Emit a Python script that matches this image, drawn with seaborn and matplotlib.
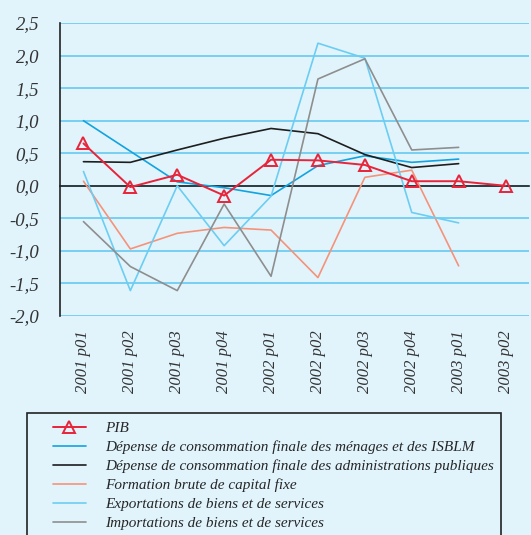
import matplotlib
matplotlib.use("Agg")
import matplotlib.pyplot as plt
from matplotlib.patches import Rectangle
import seaborn as sns
import pandas as pd
import numpy as np

# Periods (quarters)
periods = ["2001 p01", "2001 p02", "2001 p03", "2001 p04", "2002 p01",
           "2002 p02", "2002 p03", "2002 p04", "2003 p01", "2003 p02"]

# Series values (NaN = no value)
pib = [0.65, -0.02, 0.17, -0.15, 0.40, 0.39, 0.32, 0.07, 0.07, 0.00]
menages = [1.00, 0.53, 0.06, -0.03, -0.15, 0.31, 0.46, 0.36, 0.41, np.nan]
admin = [0.37, 0.36, 0.55, 0.73, 0.88, 0.80, 0.48, 0.28, 0.34, np.nan]
fbcf = [0.07, -0.97, -0.73, -0.64, -0.68, -1.41, 0.13, 0.24, -1.23, np.nan]
exports = [0.22, -1.61, 0.00, -0.92, -0.16, 2.19, 1.96, -0.41, -0.57, np.nan]
imports = [-0.55, -1.24, -1.61, -0.28, -1.39, 1.64, 1.95, 0.55, 0.59, np.nan]

labels = ["PIB",
          "Dépense de consommation finale des ménages et des ISBLM",
          "Dépense de consommation finale des administrations publiques",
          "Formation brute de capital fixe",
          "Exportations de biens et de services",
          "Importations de biens et de services"]
colors = ["#e8243a", "#12a3e0", "#1e1e1e", "#f5937a", "#6ccdf2", "#8e8e8e"]
series = [pib, menages, admin, fbcf, exports, imports]

bg = "#e1f4fc"
sns.set_theme(style="white")
plt.rcParams["font.family"] = ["Liberation Serif", "DejaVu Serif"]
plt.rcParams["font.style"] = "italic"

fig = plt.figure(figsize=(5.31, 5.35), dpi=100, facecolor=bg)
ax = fig.add_axes([60 / 531, 1 - 316 / 535, 469 / 531, 293 / 535])
ax.set_facecolor(bg)

xpos = np.arange(len(periods))
for vals, lab, col in zip(series, labels, colors):
    df = pd.DataFrame({"x": xpos, "y": vals}).dropna()
    if lab == "PIB":
        sns.lineplot(data=df, x="x", y="y", ax=ax, color=col, lw=1.4,
                     marker="^", markersize=9, markerfacecolor="none",
                     markeredgecolor=col, markeredgewidth=1.4, label=lab,
                     zorder=5)
    else:
        sns.lineplot(data=df, x="x", y="y", ax=ax, color=col, lw=1.2,
                     label=lab, zorder=4)

ax.set_xlim(-0.5, len(periods) - 0.5)
ax.set_ylim(-2.0, 2.5)
ax.set_xlabel("")
ax.set_ylabel("")

# y axis
yt = np.arange(-2.0, 2.51, 0.5)
ax.set_yticks(yt)
ax.set_yticklabels([f"{v:.1f}".replace(".", ",") for v in yt],
                   fontsize=13.5, color="#333333", fontstyle="italic")
ax.tick_params(axis="y", direction="out", length=6, width=1.1, color="#222222", pad=9)
ax.yaxis.grid(True, color="#78cff2", lw=1.4)
ax.set_axisbelow(True)

for s in ["top", "right"]:
    ax.spines[s].set_visible(False)
ax.spines["left"].set_color("#222222")
ax.spines["left"].set_linewidth(1.2)
ax.spines["bottom"].set_position(("data", 0))
ax.spines["bottom"].set_color("#222222")
ax.spines["bottom"].set_linewidth(1.2)
ax.spines["bottom"].set_zorder(3)

# zero axis with ticks between categories
ax.set_xticks(np.arange(-0.5, len(periods), 1.0))
ax.tick_params(axis="x", direction="inout", length=8, width=1.1,
               color="#222222", labelbottom=False)

# category labels below the plot
sec = ax.secondary_xaxis(0)
sec.set_xticks(xpos)
sec.set_xticklabels(periods, rotation=90, fontsize=12, color="#333333",
                    fontstyle="italic")
sec.tick_params(axis="x", length=0, pad=10)
sec.spines["bottom"].set_visible(False)

# legend
ax.legend_.remove()
handles, labs = ax.get_legend_handles_labels()
leg = fig.legend(handles, labs, loc="upper left",
                 bbox_to_anchor=(45 / 531, 1 - 414 / 535),
                 frameon=False, handlelength=2.2,
                 handletextpad=1.25, labelspacing=0.34, borderpad=0,
                 prop={"style": "italic", "size": 11})
fig.patches.append(Rectangle((27 / 531, -0.01), 474 / 531, (535 - 413) / 535 + 0.01,
                             transform=fig.transFigure, fill=False,
                             edgecolor="#222222", lw=1.2))

fig.savefig("out.png", dpi=100, facecolor=bg)
